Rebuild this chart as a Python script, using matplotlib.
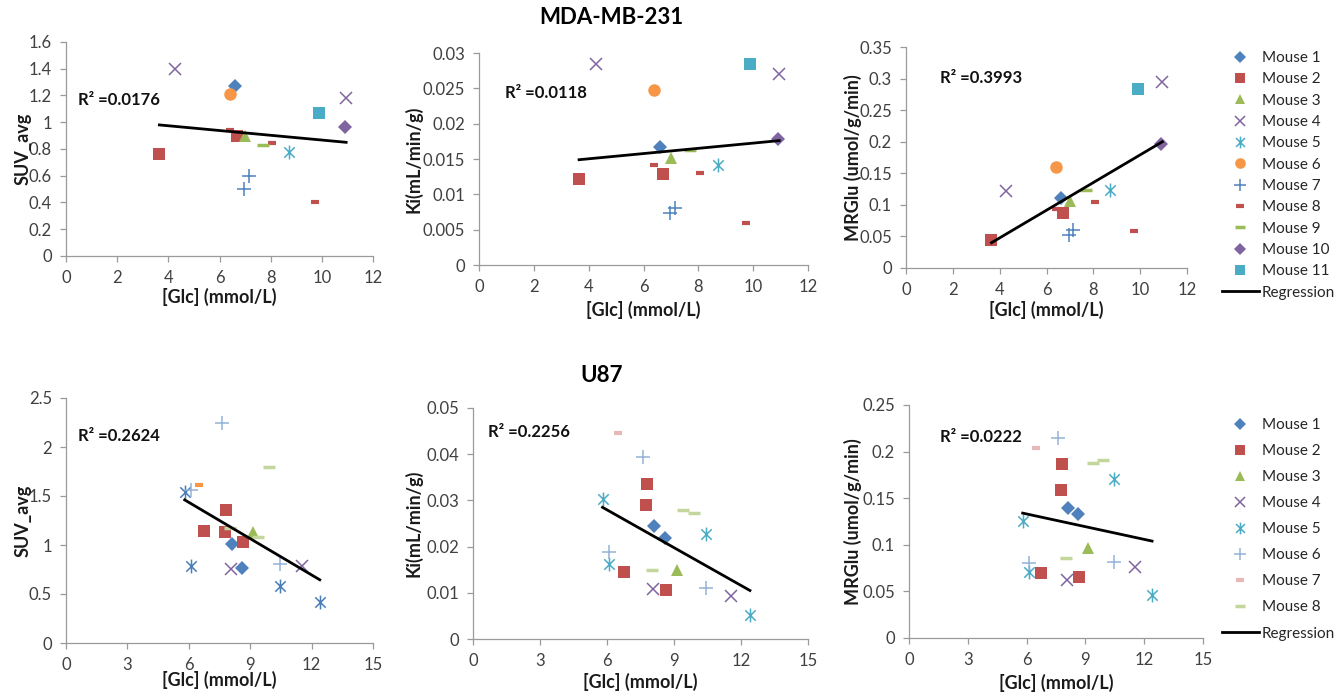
import matplotlib
matplotlib.use('Agg')
import matplotlib.pyplot as plt
from matplotlib.lines import Line2D
from matplotlib.path import Path
from matplotlib.ticker import FuncFormatter, MultipleLocator

plt.rcParams['font.family'] = ['Lato', 'DejaVu Sans']

W, H = 1334, 698

# ---- MDA-MB-231 : one list per mouse (glucose shared by the three metrics)
mda_labels = ['Mouse %d' % i for i in range(1, 12)]
mda_glc = [[6.6], [3.65, 6.7], [7.0], [4.25, 10.95], [8.7], [6.4],
           [6.95, 7.15], [6.4, 8.05, 9.75], [7.7], [10.9], [9.9]]
mda_suv = [[1.27], [0.76, 0.90], [0.90], [1.40, 1.18], [0.78], [1.21],
           [0.50, 0.60], [0.94, 0.845, 0.40], [0.83], [0.965], [1.07]]
mda_ki = [[0.0167], [0.0122, 0.0129], [0.0152], [0.0285, 0.0270], [0.0141],
          [0.0248], [0.0074, 0.0081], [0.0142, 0.0130, 0.0059], [0.0163],
          [0.0178], [0.0285]]
mda_mrglu = [[0.111], [0.045, 0.087], [0.106], [0.122, 0.295], [0.124],
             [0.160], [0.053, 0.060], [0.093, 0.105, 0.058], [0.124],
             [0.196], [0.283]]
mda_fit_x = [3.65, 10.95]
mda_fit_suv = [0.98, 0.85]
mda_fit_ki = [0.0149, 0.0176]
mda_fit_mrglu = [0.040, 0.200]
mda_r2 = [0.0176, 0.0118, 0.3993]

# ---- U87
u87_labels = ['Mouse %d' % i for i in range(1, 9)]
u87_glc = [[8.1, 8.6], [6.75, 7.75, 7.8, 8.65], [9.15], [8.05, 11.55],
           [5.8, 6.1, 10.45, 12.4], [6.1, 7.6, 10.45], [6.5], [8.0, 9.4, 9.9]]
u87_suv = [[1.01, 0.77], [1.14, 1.13, 1.36, 1.03], [1.13], [0.76, 0.79],
           [1.54, 0.79, 0.58, 0.42], [1.56, 2.24, 0.81], [1.61],
           [1.17, 1.08, 1.80]]
u87_ki = [[0.0244, 0.0219], [0.0146, 0.0289, 0.0336, 0.0106], [0.0149],
          [0.0108, 0.0093], [0.0303, 0.0162, 0.0228, 0.0053],
          [0.0189, 0.0395, 0.0110], [0.0446], [0.0149, 0.0280, 0.0272]]
u87_mrglu = [[0.140, 0.133], [0.070, 0.159, 0.187, 0.065], [0.097],
             [0.062, 0.076], [0.126, 0.071, 0.171, 0.046],
             [0.081, 0.215, 0.082], [0.204], [0.086, 0.188, 0.191]]
u87_fit_x = [5.8, 12.4]
u87_fit_suv = [1.46, 0.645]
u87_fit_ki = [0.0285, 0.0105]
u87_fit_mrglu = [0.134, 0.104]
u87_r2 = [0.2624, 0.2256, 0.0222]

# Excel "star": an x with a vertical bar through it
ASTER = Path([(0, -1), (0, 1), (-0.75, -0.75), (0.75, 0.75),
              (-0.75, 0.75), (0.75, -0.75)],
             [Path.MOVETO, Path.LINETO] * 3)

# marker styles (Excel-like)
STYLE = {
    'diamond': dict(marker='D', ms=7, mew=0),
    'square': dict(marker='s', ms=9, mew=0),
    'triangle': dict(marker='^', ms=9, mew=0),
    'x': dict(marker='x', ms=9, mew=1.1),
    'star': dict(marker=ASTER, ms=10, mew=1.1),
    'circle': dict(marker='o', ms=9, mew=0),
    'plus': dict(marker='+', ms=10, mew=1.1),
    'dash': dict(marker='_', ms=6, mew=3),
    'longdash': dict(marker='_', ms=9, mew=2.5),
}
mda_kind = ['diamond', 'square', 'triangle', 'x', 'star', 'circle', 'plus',
            'dash', 'longdash', 'diamond', 'square']
mda_color = ['#4F81BD', '#C0504D', '#9BBB59', '#8064A2', '#4BACC6', '#F79646',
             '#4F81BD', '#C0504D', '#9BBB59', '#8064A2', '#4BACC6']
u87_kind = ['diamond', 'square', 'triangle', 'x', 'star', 'plus', 'dash',
            'longdash']
u87_color = ['#4F81BD', '#C0504D', '#9BBB59', '#8064A2', '#4BACC6', '#95B3D7',
             '#E6B9B8', '#C3D69B']
u87_color_suv = ['#4F81BD', '#C0504D', '#9BBB59', '#8064A2', '#4A7EBB',
                 '#95B3D7', '#F79646', '#C3D69B']


def fx(px):
    return px / W


def fy(py):
    return 1 - py / H


def make_axes(fig, l, t, r, b):
    return fig.add_axes([fx(l), fy(b), fx(r - l), (b - t) / H])


def style_axes(ax, xmax, xstep, ymax, ystep):
    ax.set_xlim(0, xmax)
    ax.set_ylim(0, ymax)
    ax.xaxis.set_major_locator(MultipleLocator(xstep))
    ax.yaxis.set_major_locator(MultipleLocator(ystep))
    fmt = FuncFormatter(lambda v, p: '{:g}'.format(round(v, 4)))
    ax.yaxis.set_major_formatter(fmt)
    ax.xaxis.set_major_formatter(fmt)
    for s in ['top', 'right']:
        ax.spines[s].set_visible(False)
    for s in ['left', 'bottom']:
        ax.spines[s].set_color('#9a9a9a')
        ax.spines[s].set_linewidth(0.9)
    ax.tick_params(axis='both', colors='#9a9a9a', labelcolor='#404040',
                   labelsize=12, length=4, width=0.9, pad=6)
    ax.patch.set_alpha(0)


def panel(fig, rect, glc, vals, kinds, colors, fit_x, fit_y, r2,
          xmax, xstep, ymax, ystep, ylabel, ylab_px, xlab_py, r2_px):
    ax = make_axes(fig, *rect)
    style_axes(ax, xmax, xstep, ymax, ystep)
    for xs, ys, k, c in zip(glc, vals, kinds, colors):
        st = STYLE[k]
        ax.plot(xs, ys, linestyle='none', marker=st['marker'],
                markersize=st['ms'], markeredgewidth=st['mew'],
                color=c, markeredgecolor=c, zorder=3)
    ax.plot(fit_x, fit_y, color='black', lw=2, zorder=4)
    ax.set_ylabel(ylabel, fontsize=13, fontweight='bold', color='#1a1a1a',
                  va='center')
    ax.set_xlabel('[Glc] (mmol/L)', fontsize=13, fontweight='bold',
                  color='#1a1a1a', va='center')
    cy = (rect[1] + rect[3]) / 2
    cx = (rect[0] + rect[2]) / 2
    ax.yaxis.set_label_coords(fx(ylab_px), fy(cy), transform=fig.transFigure)
    ax.xaxis.set_label_coords(fx(cx), fy(xlab_py), transform=fig.transFigure)
    fig.text(fx(r2_px[0]), fy(r2_px[1]), 'R\u00b2 =%.4f' % r2, fontsize=12,
             fontweight='bold', va='center', ha='left', color='#111111')
    return ax


def legend_handles(labels, kinds, colors):
    hs = []
    for lab, k, c in zip(labels, kinds, colors):
        st = STYLE[k]
        hs.append(Line2D([], [], linestyle='none', marker=st['marker'],
                         markersize=st['ms'] * 0.85,
                         markeredgewidth=st['mew'], color=c,
                         markeredgecolor=c, label=lab))
    hs.append(Line2D([], [], color='black', lw=2, label='Regression'))
    return hs


fig = plt.figure(figsize=(W / 100, H / 100), dpi=100)
fig.patch.set_facecolor('white')

fig.text(fx(611), fy(18), 'MDA-MB-231', fontsize=16, fontweight='bold',
         ha='center', va='center')
fig.text(fx(602), fy(376), 'U87', fontsize=16, fontweight='bold',
         ha='center', va='center')

# top row
panel(fig, (66, 42, 373, 256), mda_glc, mda_suv, mda_kind, mda_color,
      mda_fit_x, mda_fit_suv, mda_r2[0], 12, 2, 1.6, 0.2, 'SUV_avg',
      23, 297, (78, 100))
panel(fig, (479, 53, 808, 265), mda_glc, mda_ki, mda_kind, mda_color,
      mda_fit_x, mda_fit_ki, mda_r2[1], 12, 2, 0.03, 0.005, 'Ki(mL/min/g)',
      413, 310, (505, 93))
panel(fig, (906, 47, 1187, 268), mda_glc, mda_mrglu, mda_kind, mda_color,
      mda_fit_x, mda_fit_mrglu, mda_r2[2], 12, 2, 0.35, 0.05,
      'MRGlu (umol/g/min)', 853, 310, (940, 78))

# bottom row
panel(fig, (66, 398, 373, 643), u87_glc, u87_suv, u87_kind, u87_color_suv,
      u87_fit_x, u87_fit_suv, u87_r2[0], 15, 3, 2.5, 0.5, 'SUV_avg',
      23, 680, (78, 436))
panel(fig, (473, 408, 808, 639), u87_glc, u87_ki, u87_kind, u87_color,
      u87_fit_x, u87_fit_ki, u87_r2[1], 15, 3, 0.05, 0.01, 'Ki(mL/min/g)',
      413, 682, (488, 432))
panel(fig, (909, 405, 1203, 638), u87_glc, u87_mrglu, u87_kind, u87_color,
      u87_fit_x, u87_fit_mrglu, u87_r2[2], 15, 3, 0.25, 0.05,
      'MRGlu (umol/g/min)', 853, 683, (940, 437))

leg_kw = dict(loc='upper left', frameon=False, fontsize=11,
              handlelength=2.4, handletextpad=0.2, borderpad=0,
              borderaxespad=0, labelcolor='#262626')
fig.legend(handles=legend_handles(mda_labels, mda_kind, mda_color),
           bbox_to_anchor=(fx(1222), fy(51)), labelspacing=0.48, **leg_kw)
fig.legend(handles=legend_handles(u87_labels, u87_kind, u87_color),
           bbox_to_anchor=(fx(1222), fy(418)), labelspacing=0.79, **leg_kw)

fig.savefig('out.png', dpi=100)
plt.close(fig)
